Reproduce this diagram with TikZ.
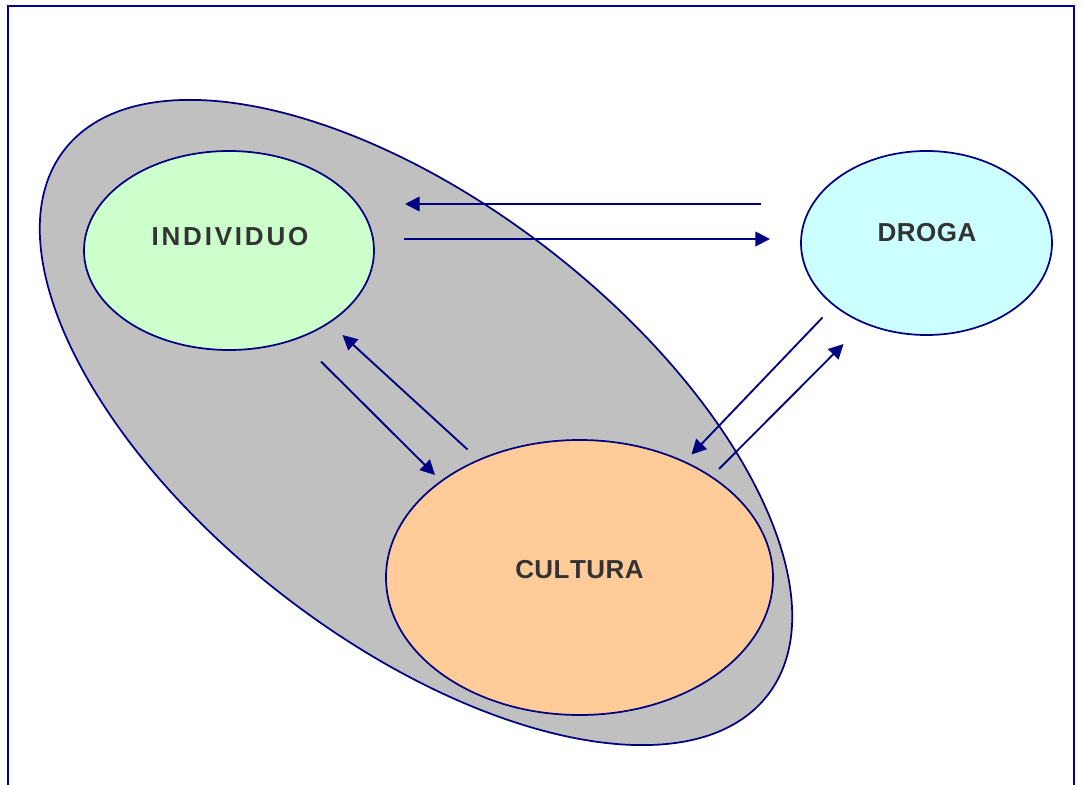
\documentclass[tikz,border=0pt]{standalone}
\usepackage{fontspec}
\setmainfont{Liberation Sans}
\usetikzlibrary{shapes.geometric,arrows.meta}
\definecolor{navy}{HTML}{000080}
\definecolor{framec}{HTML}{000099}
\definecolor{txt}{HTML}{333333}
\definecolor{greyfill}{HTML}{C0C0C0}
\definecolor{greenfill}{HTML}{CCFFCC}
\definecolor{cyanfill}{HTML}{CCFFFF}
\definecolor{orangefill}{HTML}{FFCC99}
\tikzset{
  blob/.style={ellipse, draw=navy, line width=1.3pt, inner sep=0pt},
  lbl/.style={text=txt, font=\fontsize{19.5}{21}\selectfont\bfseries, inner sep=0pt},
  arr/.style={draw=navy, line width=1.4pt, -{Triangle[length=11pt,width=11pt]}}
}
\newcommand{\ls}[1]{#1\kern2.1pt}
\newcommand{\lt}[1]{#1\kern0.35pt}
\begin{document}
\begin{tikzpicture}[x=0.75pt,y=-0.75pt]
\useasboundingbox (0,0) rectangle (1083,785);
\fill[white] (0,0) rectangle (1083,785);
\draw[framec, line width=1.7pt] (8,785) -- (8,6) -- (1074,6) -- (1074,785);
% big ellipse
\node[blob, fill=greyfill, minimum width=667.5pt, minimum height=327pt, rotate=-37.8] (grupo) at (416,422.5) {};
% three ellipses
\node[blob, fill=greenfill, minimum width=217.5pt, minimum height=149.25pt] (ind) at (229,250.5) {};
\node[blob, fill=cyanfill, minimum width=188.25pt, minimum height=138pt] (dro) at (926.5,243) {};
\node[blob, fill=orangefill, minimum width=290.25pt, minimum height=206.25pt] (cul) at (579.5,577.5) {};
% labels
\node[lbl] (tind) at (230,237) {\ls{I}\ls{N}\ls{D}\ls{I}\ls{V}\ls{I}\ls{D}\ls{U}O};
\node[lbl] (tdro) at (927,233) {\lt{D}\lt{R}\lt{O}\lt{G}A};
\node[lbl] (tcul) at (579.5,570) {\lt{C}\lt{U}\lt{L}\lt{T}\lt{U}\lt{R}A};
% arrow end coordinates
\coordinate (a1s) at (761,204);
\coordinate (a1e) at (405,204);
\coordinate (a2s) at (404,239);
\coordinate (a2e) at (770,239);
\coordinate (a3s) at (321,361.5);
\coordinate (a3e) at (435,475);
\coordinate (a4s) at (467.5,449.5);
\coordinate (a4e) at (342.5,335);
\coordinate (a5s) at (822.5,317.5);
\coordinate (a5e) at (691.5,454.5);
\coordinate (a6s) at (719,469);
\coordinate (a6e) at (843.5,344);
\draw[arr] (a1s) -- (a1e);
\draw[arr] (a2s) -- (a2e);
\draw[arr] (a3s) -- (a3e);
\draw[arr] (a4s) -- (a4e);
\draw[arr] (a5s) -- (a5e);
\draw[arr] (a6s) -- (a6e);
\end{tikzpicture}
\end{document}
